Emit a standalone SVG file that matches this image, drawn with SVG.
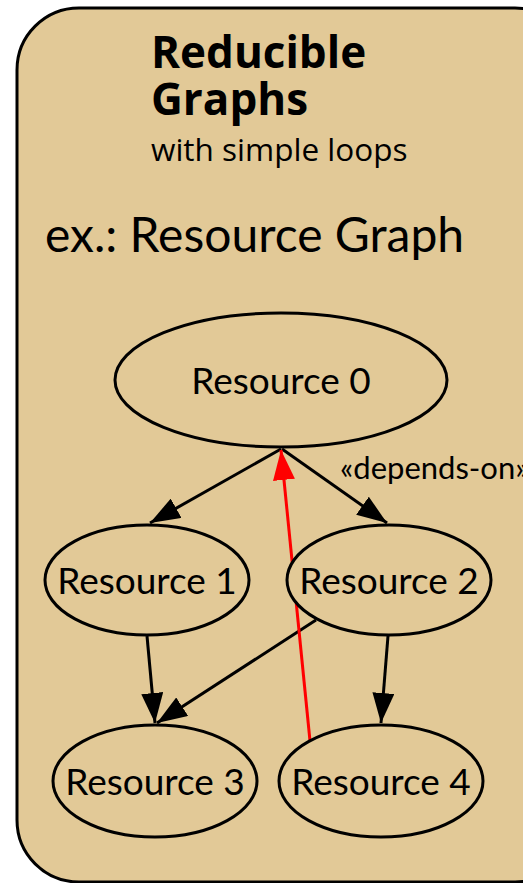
<svg xmlns="http://www.w3.org/2000/svg" width="523" height="883" viewBox="0 0 523 883">
<defs>
<marker id="ah" markerUnits="userSpaceOnUse" markerWidth="30" markerHeight="22" refX="30" refY="11" orient="auto"><path d="M0,0 L30,11 L0,22 z" fill="#000"/></marker>
<marker id="ahr" markerUnits="userSpaceOnUse" markerWidth="30" markerHeight="22" refX="30" refY="11" orient="auto"><path d="M0,0 L30,11 L0,22 z" fill="#ff0000"/></marker>
<style>
.n ellipse{fill:#e2c997;stroke:#000;stroke-width:3}
.n text{font-family:Lato,"Liberation Sans",sans-serif;font-size:37px;text-anchor:middle;fill:#000}
.e line{stroke:#000;stroke-width:3;marker-end:url(#ah)}
.e line.r{stroke:#ff0000;marker-end:url(#ahr)}
</style>
</defs>
<rect x="17" y="8" width="560" height="874" rx="62" ry="62" fill="#e2c997" stroke="#000" stroke-width="3"/>
<g id="title" font-family="'Open Sans','Noto Sans',sans-serif" fill="#000">
<text x="151" y="68" font-size="44" font-weight="bold">Reducible</text>
<text x="151" y="115" font-size="44" font-weight="bold">Graphs</text>
<text x="151" y="161" font-size="31.5">with simple loops</text>
</g>
<text id="subtitle" x="45" y="252" font-family="Lato,'Liberation Sans',sans-serif" font-size="48" fill="#000">ex.: Resource Graph</text>
<g id="connectors" class="e">
<line x1="281" y1="449" x2="150" y2="523"/>
<line x1="282" y1="449" x2="387" y2="523"/>
<line x1="147" y1="636" x2="155" y2="723"/>
<line x1="316" y1="620" x2="157" y2="723"/>
<line x1="388" y1="636" x2="381" y2="723"/>
<line class="r" x1="310" y1="741" x2="281" y2="450"/>
<text x="340" y="479" font-family="Lato,'Liberation Sans',sans-serif" font-size="31" fill="#000">«depends-on»</text>
</g>
<g id="r0" class="n"><ellipse cx="281" cy="380" rx="166" ry="67"/><text x="281" y="394">Resource 0</text></g>
<g id="r1" class="n"><ellipse cx="147" cy="580" rx="102" ry="55"/><text x="147" y="594">Resource 1</text></g>
<g id="r2" class="n"><ellipse cx="389" cy="580" rx="102" ry="55"/><text x="389" y="594">Resource 2</text></g>
<g id="r3" class="n"><ellipse cx="155" cy="781" rx="102" ry="56"/><text x="155" y="795">Resource 3</text></g>
<g id="r4" class="n"><ellipse cx="381" cy="781" rx="102" ry="56"/><text x="381" y="795">Resource 4</text></g>
</svg>
